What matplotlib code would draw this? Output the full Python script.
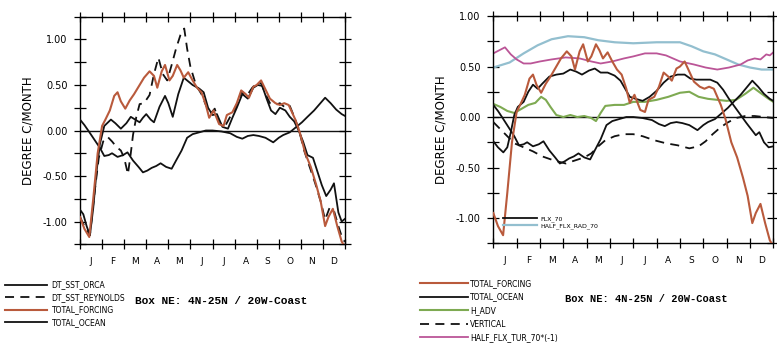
import matplotlib
matplotlib.use("Agg")
import matplotlib.pyplot as plt
from matplotlib.ticker import MultipleLocator, FormatStrFormatter, FixedLocator

# ---------------- data (x in months from 1 Jan, y in degree C / month) ----------------
months = ["J", "F", "M", "A", "M", "J", "J", "A", "S", "O", "N", "D"]

forcing_x = [0.0, 0.2, 0.42, 0.6, 0.8, 1.0, 1.15, 1.35, 1.55, 1.7, 1.85, 2.05, 2.25, 2.45, 2.7, 2.9,
             3.15, 3.35, 3.5, 3.7, 3.85, 4.05, 4.2, 4.4, 4.55, 4.7, 4.9, 5.1, 5.3, 5.5, 5.7, 5.85,
             6.05, 6.3, 6.5, 6.65, 6.9, 7.1, 7.3, 7.5, 7.65, 7.85, 8.0, 8.2, 8.4, 8.6, 8.85, 9.05,
             9.25, 9.45, 9.6, 9.75, 9.95, 10.2, 10.45, 10.7, 10.9, 11.1, 11.25, 11.45, 11.65, 11.85, 12.0]
forcing_y = [-0.95, -1.08, -1.17, -0.75, -0.25, 0.05, 0.12, 0.22, 0.38, 0.42, 0.32, 0.24, 0.33, 0.40, 0.50, 0.58,
             0.65, 0.60, 0.47, 0.65, 0.72, 0.55, 0.60, 0.72, 0.66, 0.58, 0.64, 0.55, 0.47, 0.42, 0.28, 0.14,
             0.22, 0.07, 0.05, 0.17, 0.20, 0.30, 0.44, 0.40, 0.36, 0.48, 0.50, 0.55, 0.45, 0.35, 0.30, 0.28,
             0.30, 0.28, 0.20, 0.12, -0.02, -0.25, -0.40, -0.60, -0.78, -1.05, -0.95, -0.86, -1.05, -1.22, -1.28]

ocean_x = [0.0, 0.2, 0.4, 0.65, 0.9, 1.1, 1.3, 1.45, 1.7, 1.95, 2.15, 2.4, 2.65, 2.85, 3.05, 3.25, 3.45,
           3.65, 3.9, 4.15, 4.35, 4.6, 4.85, 5.1, 5.4, 5.7, 6.0, 6.4, 6.8, 7.1, 7.35, 7.6, 7.85, 8.1,
           8.4, 8.75, 9.0, 9.2, 9.5, 9.8, 10.05, 10.3, 10.6, 10.85, 11.1, 11.35, 11.6, 11.85, 12.0]
ocean_y = [0.12, 0.06, -0.01, -0.10, -0.19, -0.28, -0.27, -0.25, -0.29, -0.27, -0.24, -0.33, -0.40, -0.46, -0.44, -0.41, -0.39,
           -0.36, -0.40, -0.42, -0.33, -0.22, -0.08, -0.04, -0.02, 0.00, 0.00, -0.01, -0.03, -0.07, -0.09, -0.06, -0.05, -0.06,
           -0.08, -0.13, -0.08, -0.05, -0.02, 0.04, 0.09, 0.15, 0.22, 0.29, 0.36, 0.30, 0.23, 0.18, 0.16]

orca_x = [0.0, 0.15, 0.3, 0.45, 0.6, 0.75, 0.9, 1.1, 1.4, 1.6, 1.85, 2.1, 2.3, 2.5, 2.7, 2.85, 3.0, 3.2,
          3.35, 3.6, 3.85, 4.0, 4.2, 4.45, 4.7, 4.85, 5.1, 5.4, 5.6, 5.8, 6.0, 6.2, 6.45, 6.7, 6.9, 7.1,
          7.35, 7.6, 7.85, 8.05, 8.25, 8.45, 8.65, 8.85, 9.05, 9.3, 9.5, 9.7, 9.9, 10.1, 10.3, 10.55,
          10.75, 10.95, 11.15, 11.35, 11.5, 11.7, 11.85, 12.0]
orca_y = [-0.87, -0.92, -1.05, -1.15, -0.85, -0.45, -0.15, 0.05, 0.12, 0.08, 0.02, 0.08, 0.15, 0.12, 0.09, 0.14, 0.18, 0.12,
          0.09, 0.26, 0.38, 0.30, 0.15, 0.40, 0.58, 0.55, 0.50, 0.46, 0.42, 0.25, 0.17, 0.18, 0.04, 0.02, 0.14, 0.25,
          0.40, 0.35, 0.47, 0.50, 0.49, 0.35, 0.22, 0.18, 0.25, 0.22, 0.15, 0.10, 0.00, -0.12, -0.27, -0.30,
          -0.45, -0.60, -0.72, -0.65, -0.58, -0.90, -1.00, -0.97]

reyn_x = [0.0, 0.2, 0.45, 0.65, 0.85, 1.05, 1.25, 1.45, 1.65, 1.85, 2.0, 2.17, 2.3, 2.4, 2.55, 2.7, 2.9,
          3.15, 3.35, 3.55, 3.75, 3.95, 4.15, 4.35, 4.55, 4.72, 4.85, 5.0, 5.25, 5.5, 5.7, 5.9, 6.1,
          6.3, 6.55, 6.8, 7.05, 7.3, 7.55, 7.8, 8.0, 8.2, 8.4, 8.6, 8.85, 9.05, 9.3, 9.5, 9.7, 9.9,
          10.15, 10.4, 10.65, 10.9, 11.1, 11.3, 11.5, 11.7, 11.9, 12.0]
reyn_y = [-0.95, -1.05, -1.15, -0.70, -0.30, -0.12, -0.07, -0.12, -0.18, -0.22, -0.30, -0.48, -0.25, -0.05, 0.15, 0.29, 0.30,
          0.39, 0.62, 0.80, 0.62, 0.55, 0.72, 0.90, 1.05, 1.12, 0.90, 0.70, 0.50, 0.40, 0.28, 0.18, 0.24,
          0.08, 0.04, 0.15, 0.25, 0.42, 0.38, 0.47, 0.52, 0.52, 0.40, 0.30, 0.28, 0.30, 0.25, 0.27, 0.15, 0.02,
          -0.22, -0.40, -0.58, -0.78, -0.98, -0.85, -0.88, -1.05, -1.20, -1.22]

flx_x = [0.0, 0.2, 0.43, 0.6, 0.75, 0.9, 1.05, 1.3, 1.5, 1.7, 1.9, 2.1, 2.4, 2.7, 3.0, 3.3, 3.55, 3.8,
         4.1, 4.35, 4.6, 4.9, 5.2, 5.45, 5.65, 5.85, 6.1, 6.4, 6.7, 7.0, 7.3, 7.6, 7.9, 8.2, 8.45, 8.7,
         9.0, 9.3, 9.6, 9.85, 10.1, 10.35, 10.6, 10.85, 11.05, 11.25, 11.4, 11.6, 11.8, 12.0]
flx_y = [-0.24, -0.30, -0.35, -0.30, -0.15, 0.02, 0.10, 0.15, 0.25, 0.32, 0.28, 0.33, 0.40, 0.42, 0.43, 0.47, 0.45, 0.42,
         0.46, 0.48, 0.44, 0.44, 0.41, 0.36, 0.28, 0.20, 0.18, 0.16, 0.20, 0.26, 0.34, 0.40, 0.42, 0.42, 0.38, 0.37,
         0.37, 0.37, 0.34, 0.27, 0.18, 0.10, 0.02, -0.06, -0.12, -0.18, -0.15, -0.25, -0.30, -0.29]

rad_x = [0.0, 0.7, 1.3, 1.9, 2.5, 3.2, 3.9, 4.5, 5.2, 6.0, 7.0, 8.0, 8.5, 9.0, 9.5, 10.0, 10.5, 11.0, 11.5, 12.0]
rad_y = [0.49, 0.54, 0.63, 0.71, 0.77, 0.80, 0.79, 0.76, 0.74, 0.73, 0.74, 0.74, 0.70, 0.65, 0.62, 0.57, 0.52, 0.49, 0.47, 0.47]

tur_x = [0.0, 0.25, 0.5, 0.75, 1.0, 1.3, 1.6, 2.0, 2.5, 3.1, 3.7, 4.2, 4.6, 5.1, 5.6, 6.0, 6.5, 7.0,
         7.4, 8.0, 8.6, 9.1, 9.6, 10.1, 10.6, 10.9, 11.2, 11.45, 11.7, 11.85, 12.0]
tur_y = [0.63, 0.66, 0.69, 0.62, 0.57, 0.53, 0.53, 0.55, 0.57, 0.59, 0.58, 0.55, 0.53, 0.55, 0.58, 0.60, 0.63, 0.63,
         0.61, 0.55, 0.52, 0.49, 0.47, 0.49, 0.52, 0.56, 0.58, 0.57, 0.62, 0.61, 0.64]

hadv_x = [0.0, 0.3, 0.6, 0.9, 1.2, 1.5, 1.8, 2.05, 2.25, 2.45, 2.7, 3.0, 3.3, 3.6, 3.9, 4.2, 4.4, 4.6,
          4.8, 5.2, 5.6, 6.0, 6.5, 7.0, 7.5, 8.0, 8.4, 8.8, 9.2, 9.6, 10.0, 10.4, 10.8, 11.15, 11.5, 11.8, 12.0]
hadv_y = [0.13, 0.10, 0.06, 0.04, 0.08, 0.12, 0.14, 0.20, 0.17, 0.10, 0.02, 0.00, 0.02, 0.00, 0.01, -0.01, -0.04, 0.04,
          0.11, 0.12, 0.12, 0.15, 0.15, 0.17, 0.20, 0.24, 0.25, 0.20, 0.18, 0.17, 0.16, 0.17, 0.23, 0.29, 0.23, 0.18, 0.15]

vert_x = [0.0, 0.3, 0.6, 0.9, 1.3, 1.7, 2.1, 2.6, 3.1, 3.5, 3.9, 4.2, 4.5, 4.8, 5.2, 5.6, 6.0, 6.4,
          6.9, 7.4, 7.9, 8.4, 8.8, 9.1, 9.4, 9.7, 10.0, 10.4, 10.8, 11.2, 11.6, 12.0]
vert_y = [-0.05, -0.12, -0.19, -0.26, -0.30, -0.34, -0.39, -0.43, -0.46, -0.43, -0.40, -0.36, -0.29, -0.23, -0.19, -0.17,
          -0.17, -0.19, -0.23, -0.26, -0.28, -0.31, -0.29, -0.24, -0.17, -0.11, -0.06, -0.01, 0.01, 0.01, 0.00, -0.01]

box_title = "Box NE: 4N-25N / 20W-Coast"
ylabel = "DEGREE C/MONTH"

# ---------------- style ----------------
C_BROWN = "#b95a3c"
C_BLACK = "#111111"
C_BLUE = "#93bfcf"
C_PINK = "#bb5597"
C_GREEN = "#7eaa52"

plt.rcParams["font.family"] = ["DejaVu Sans"]

fig = plt.figure(figsize=(7.77, 3.47), dpi=100)

axL = fig.add_axes([80 / 777, 1 - 244.3 / 347, 265 / 777, 227.6 / 347])
axR = fig.add_axes([493.3 / 777, 1 - 243.3 / 347, 280 / 777, 227.3 / 347])


def style_axes(ax, ylim):
    ax.set_xlim(0, 12)
    ax.set_ylim(*ylim)
    ax.axhline(0, color=C_BLACK, lw=1.0, zorder=1)
    ax.xaxis.set_major_locator(FixedLocator(range(13)))
    ax.xaxis.set_minor_locator(FixedLocator([i + 0.5 for i in range(12)]))
    ax.set_xticklabels([])
    ax.set_xticklabels(months, minor=True)
    ax.tick_params(axis="x", which="major", direction="inout", length=7, width=0.9,
                   top=True, bottom=True)
    ax.tick_params(axis="x", which="minor", length=0, pad=9, labelsize=6.5, top=False)
    ax.yaxis.set_major_locator(MultipleLocator(0.5))
    ax.yaxis.set_minor_locator(MultipleLocator(0.25))
    ax.yaxis.set_major_formatter(FormatStrFormatter("%.2f"))
    ax.tick_params(axis="y", which="both", direction="inout", length=8, width=0.9,
                   left=True, right=True, labelsize=7, pad=5)
    for s in ax.spines.values():
        s.set_linewidth(1.0)
    ax.set_ylabel(ylabel, fontsize=8.5, labelpad=6)


style_axes(axL, (-1.25, 1.25))
style_axes(axR, (-1.25, 1.0))

# ---- left panel ----
lw = 1.3
l_orca, = axL.plot(orca_x, orca_y, color=C_BLACK, lw=lw, label="DT_SST_ORCA", zorder=3)
l_reyn, = axL.plot(reyn_x, reyn_y, color=C_BLACK, lw=lw, ls=(0, (5, 3.5)), label="DT_SST_REYNOLDS", zorder=4)
l_forcL, = axL.plot(forcing_x, forcing_y, color=C_BROWN, lw=1.5, label="TOTAL_FORCING", zorder=5)
l_oceanL, = axL.plot(ocean_x, ocean_y, color=C_BLACK, lw=lw, label="TOTAL_OCEAN", zorder=3)

# ---- right panel ----
l_rad, = axR.plot(rad_x, rad_y, color=C_BLUE, lw=1.6, label="HALF_FLX_RAD_70", zorder=2)
l_tur, = axR.plot(tur_x, tur_y, color=C_PINK, lw=1.3, label="HALF_FLX_TUR_70*(-1)", zorder=2)
l_hadv, = axR.plot(hadv_x, hadv_y, color=C_GREEN, lw=1.5, label="H_ADV", zorder=2)
l_vert, = axR.plot(vert_x, vert_y, color=C_BLACK, lw=lw, ls=(0, (5, 3.5)), label="VERTICAL", zorder=3)
l_flx, = axR.plot(flx_x, flx_y, color=C_BLACK, lw=lw, label="FLX_70", zorder=3)
l_oceanR, = axR.plot(ocean_x, ocean_y, color=C_BLACK, lw=lw, label="TOTAL_OCEAN", zorder=3)
l_forcR, = axR.plot(forcing_x, forcing_y, color=C_BROWN, lw=1.5, label="TOTAL_FORCING", zorder=4)

# inner legend in right panel
leg_in = axR.legend(handles=[l_flx, l_rad], loc="upper left",
                    bbox_to_anchor=((503 - 493.3) / 280, (243.3 - 215.5) / 227.3),
                    frameon=False, fontsize=4.5, handlelength=5.4, handletextpad=0.6,
                    labelspacing=0.15, borderpad=0, borderaxespad=0)

# bottom legends
fig.legend(handles=[l_orca, l_reyn, l_forcL, l_oceanL], loc="upper left",
           bbox_to_anchor=(5 / 777, 1 - 280.5 / 347), frameon=False, fontsize=5.5,
           handlelength=5.5, handletextpad=0.6, labelspacing=0.45, borderpad=0,
           borderaxespad=0)
fig.legend(handles=[l_forcR, l_oceanR, l_hadv, l_vert, l_tur], loc="upper left",
           bbox_to_anchor=(420 / 777, 1 - 278.8 / 347), frameon=False, fontsize=5.5,
           handlelength=6.3, handletextpad=0.3, labelspacing=0.6, borderpad=0,
           borderaxespad=0)

fig.text(135 / 777, 1 - 300.7 / 347, box_title, fontsize=8, family="Liberation Mono",
         weight="bold", va="center", ha="left")
fig.text(565 / 777, 1 - 299.3 / 347, box_title, fontsize=7.5, family="Liberation Mono",
         weight="bold", va="center", ha="left")

fig.savefig("out.png", dpi=100)
